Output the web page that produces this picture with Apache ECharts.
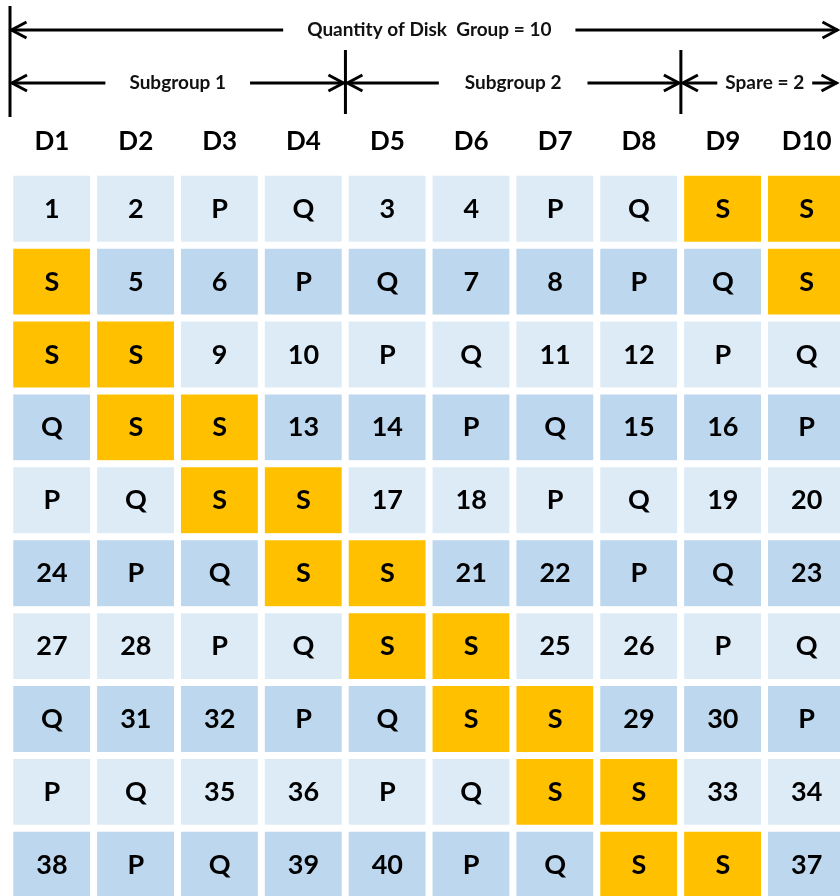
<!DOCTYPE html>
<html>
<head>
<meta charset="utf-8">
<script src="https://cdn.jsdelivr.net/npm/echarts@6/dist/echarts.min.js"></script>
<style>html,body{margin:0;padding:0;background:#fff}#c{width:840px;height:896px}</style>
</head>
<body>
<div id="c"></div>
<script>
// ---- data ----
const columns = ['D1','D2','D3','D4','D5','D6','D7','D8','D9','D10'];
const rows = ['R1','R2','R3','R4','R5','R6','R7','R8','R9','R10'];
const row1  = ['1','2','P','Q','3','4','P','Q','S','S'];
const row2  = ['S','5','6','P','Q','7','8','P','Q','S'];
const row3  = ['S','S','9','10','P','Q','11','12','P','Q'];
const row4  = ['Q','S','S','13','14','P','Q','15','16','P'];
const row5  = ['P','Q','S','S','17','18','P','Q','19','20'];
const row6  = ['24','P','Q','S','S','21','22','P','Q','23'];
const row7  = ['27','28','P','Q','S','S','25','26','P','Q'];
const row8  = ['Q','31','32','P','Q','S','S','29','30','P'];
const row9  = ['P','Q','35','36','P','Q','S','S','33','34'];
const row10 = ['38','P','Q','39','40','P','Q','S','S','37'];
const cellRows = [row1,row2,row3,row4,row5,row6,row7,row8,row9,row10];
const groupTitle = 'Quantity of Disk  Group = 10';
const subgroups = [
  {name:'Subgroup 1', from:0, to:4, gap:24},
  {name:'Subgroup 2', from:4, to:8, gap:26},
  {name:'Spare = 2',  from:8, to:10, gap:8}
];

// ---- build ----
const data = [];
cellRows.forEach((r, ri) => r.forEach((t, ci) => {
  const type = t === 'S' ? 2 : (ri % 2);
  data.push({value:[ci, ri, type]});
}));

const FONT = 'Lato, "Open Sans", sans-serif';
const chart = echarts.init(document.getElementById('c'), null, {renderer:'canvas'});
chart.setOption({
  animation:false,
  backgroundColor:'#ffffff',
  grid:{left:10, top:172.6, width:838.6, height:728.8, containLabel:false, outerBoundsMode:'none'},
  xAxis:{type:'category', data:columns, position:'top',
    axisLine:{show:false}, axisTick:{show:false}, splitLine:{show:false},
    axisLabel:{fontFamily:FONT, fontWeight:'bold', fontSize:26, color:'#000', margin:18}},
  yAxis:{type:'category', data:rows, inverse:true, show:false},
  visualMap:{type:'piecewise', show:false, dimension:2, seriesIndex:0,
    pieces:[{value:0,color:'#DDEBF7'},{value:1,color:'#BDD7EE'},{value:2,color:'#FFC000'}]},
  series:[{
    type:'heatmap', data:data,
    itemStyle:{borderColor:'#ffffff', borderWidth:7},
    label:{show:true, fontFamily:FONT, fontWeight:'bold', fontSize:27, color:'#000',
      formatter:p => cellRows[p.value[1]][p.value[0]]},
    emphasis:{disabled:true}
  }]
});

// ---- dimension annotations derived from the x scale ----
const c0 = chart.convertToPixel({xAxisIndex:0}, columns[0]);
const c1 = chart.convertToPixel({xAxisIndex:0}, columns[1]);
const band = c1 - c0;
const W = chart.getWidth();
const rawX = i => c0 - band/2 + i*band;
const bx = i => Math.min(rawX(i), W - 1.5);
const LW = 3;
const els = [];
function line(x1,y1,x2,y2){els.push({type:'line', shape:{x1,y1,x2,y2}, style:{stroke:'#000', lineWidth:LW}, z:10});}
function head(x,y,dir){ // dir -1 = points left, +1 = points right
  els.push({type:'polyline', shape:{points:[[x - dir*15, y-8],[x, y],[x - dir*15, y+8]]},
    style:{stroke:'#000', lineWidth:LW, fill:null}, z:10});
}
function label(text,x,y,gap){
  els.push({type:'text', x:x, y:y, z:20,
    style:{text:text, fontFamily:FONT, fontWeight:'bold', fontSize:19, fill:'#111',
      align:'center', verticalAlign:'middle', backgroundColor:'#fff', padding:[2,gap]}});
}
const y1 = 30, y2 = 83;
// top dimension
line(bx(0)+1, y1, bx(10)-1, y1); head(bx(0)+1.5, y1, -1); head(bx(10)-1, y1, 1);
label(groupTitle, (rawX(0)+rawX(10))/2, y1, 24);
// vertical extension lines
line(bx(0), 6, bx(0), 117);
line(bx(4), 50, bx(4), 114);
line(bx(8), 50, bx(8), 114);
subgroups.forEach(g => {
  const a = bx(g.from)+2, b = bx(g.to)-2;
  line(a, y2, b, y2); head(a, y2, -1); head(b, y2, 1);
  label(g.name, (rawX(g.from)+rawX(g.to))/2, y2, g.gap);
});
chart.setOption({graphic:{elements:els}});
</script>
</body>
</html>
